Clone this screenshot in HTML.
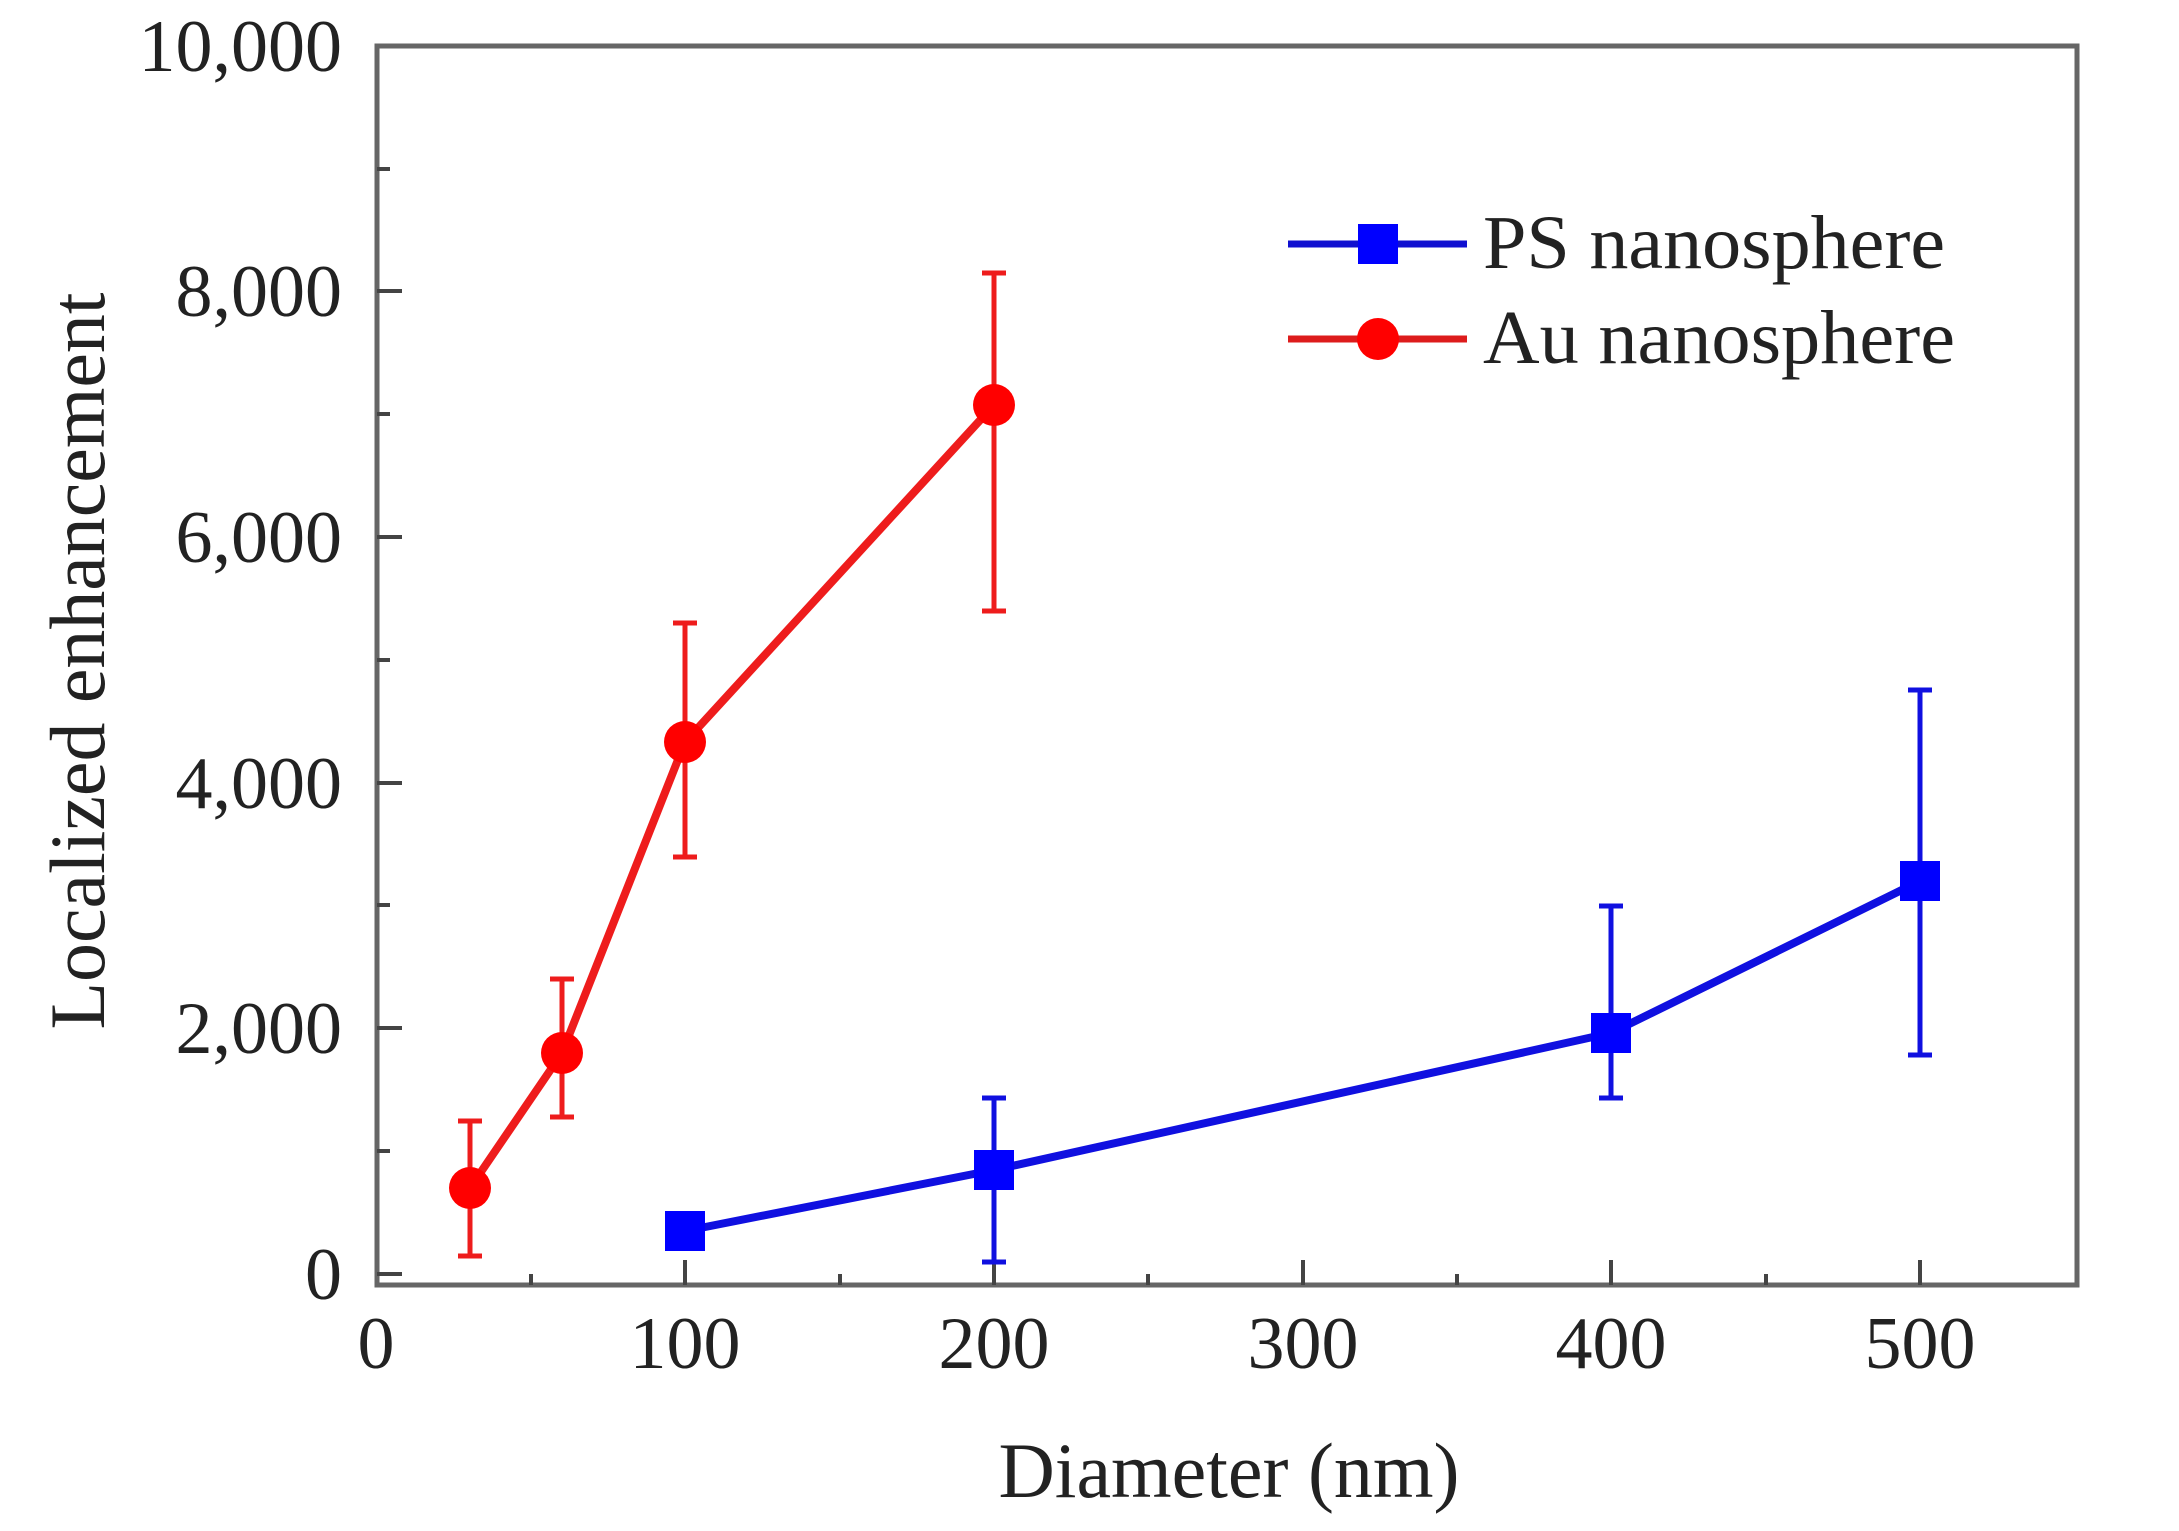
<!DOCTYPE html>
<html><head><meta charset="utf-8"><style>html,body{margin:0;padding:0;background:#fff}svg{display:block}</style></head>
<body>
<svg width="2179" height="1531" viewBox="0 0 2179 1531" xmlns="http://www.w3.org/2000/svg" font-family="Liberation Serif, serif">
<rect width="2179" height="1531" fill="#fff"/>
<rect x="377" y="46" width="1700" height="1239" fill="none" stroke="#666" stroke-width="5"/>
<g stroke="#444" stroke-width="4">
<line x1="377" y1="1274" x2="402" y2="1274"/><line x1="377" y1="1028" x2="402" y2="1028"/><line x1="377" y1="783" x2="402" y2="783"/><line x1="377" y1="537" x2="402" y2="537"/><line x1="377" y1="291" x2="402" y2="291"/>
<line x1="377" y1="1151" x2="390" y2="1151"/><line x1="377" y1="905" x2="390" y2="905"/><line x1="377" y1="660" x2="390" y2="660"/><line x1="377" y1="414" x2="390" y2="414"/><line x1="377" y1="169" x2="390" y2="169"/>
<line x1="685" y1="1285" x2="685" y2="1260"/><line x1="994" y1="1285" x2="994" y2="1260"/><line x1="1303" y1="1285" x2="1303" y2="1260"/><line x1="1611" y1="1285" x2="1611" y2="1260"/><line x1="1920" y1="1285" x2="1920" y2="1260"/>
<line x1="531" y1="1285" x2="531" y2="1274"/><line x1="840" y1="1285" x2="840" y2="1274"/><line x1="1148" y1="1285" x2="1148" y2="1274"/><line x1="1457" y1="1285" x2="1457" y2="1274"/><line x1="1766" y1="1285" x2="1766" y2="1274"/>
</g>
<g font-size="74" fill="#222" text-anchor="end">
<text x="342" y="1299">0</text><text x="342" y="1053">2,000</text><text x="342" y="808">4,000</text><text x="342" y="562">6,000</text><text x="342" y="316">8,000</text><text x="342" y="71">10,000</text>
</g>
<g font-size="74" fill="#222" text-anchor="middle">
<text x="376" y="1368">0</text><text x="685" y="1368">100</text><text x="994" y="1368">200</text><text x="1303" y="1368">300</text><text x="1611" y="1368">400</text><text x="1920" y="1368">500</text>
</g>
<text x="1229" y="1497" font-size="78" fill="#222" text-anchor="middle" textLength="461" lengthAdjust="spacingAndGlyphs">Diameter (nm)</text>
<text transform="translate(104,661) rotate(-90)" font-size="78" fill="#222" text-anchor="middle" textLength="737" lengthAdjust="spacingAndGlyphs">Localized enhancement</text>

<g stroke="#ee1c1c" stroke-width="5" fill="none">
<line x1="470" y1="1256" x2="470" y2="1121"/><line x1="458" y1="1256" x2="482" y2="1256"/><line x1="458" y1="1121" x2="482" y2="1121"/>
<line x1="562" y1="1117" x2="562" y2="979"/><line x1="550" y1="1117" x2="574" y2="1117"/><line x1="550" y1="979" x2="574" y2="979"/>
<line x1="685" y1="857" x2="685" y2="623"/><line x1="673" y1="857" x2="697" y2="857"/><line x1="673" y1="623" x2="697" y2="623"/>
<line x1="994" y1="611" x2="994" y2="273"/><line x1="982" y1="611" x2="1006" y2="611"/><line x1="982" y1="273" x2="1006" y2="273"/>
<polyline stroke-width="8" points="470,1188 562,1053 685,742 994,405"/>
</g>
<g fill="#ff0000">
<circle cx="470" cy="1188" r="21"/><circle cx="562" cy="1053" r="21"/><circle cx="685" cy="742" r="21"/><circle cx="994" cy="405" r="21"/>
</g>
<g stroke="#1010e0" stroke-width="5" fill="none">
<line x1="994" y1="1262" x2="994" y2="1098"/><line x1="982" y1="1262" x2="1006" y2="1262"/><line x1="982" y1="1098" x2="1006" y2="1098"/>
<line x1="1611" y1="1098" x2="1611" y2="906"/><line x1="1599" y1="1098" x2="1623" y2="1098"/><line x1="1599" y1="906" x2="1623" y2="906"/>
<line x1="1920" y1="1055" x2="1920" y2="690"/><line x1="1908" y1="1055" x2="1932" y2="1055"/><line x1="1908" y1="690" x2="1932" y2="690"/>
<polyline stroke-width="8" points="685,1231 994,1170 1611,1033 1920,881"/>
</g>
<g fill="#0000ff">
<rect x="665" y="1211" width="40" height="40"/><rect x="974" y="1150" width="40" height="40"/><rect x="1591" y="1013" width="40" height="40"/><rect x="1900" y="861" width="40" height="40"/>
</g>
<line x1="1288" y1="244" x2="1467" y2="244" stroke="#1010d0" stroke-width="7"/>
<rect x="1358" y="224" width="40" height="40" fill="#0000ff"/>
<line x1="1288" y1="339" x2="1467" y2="339" stroke="#dd1c1c" stroke-width="7"/>
<circle cx="1378" cy="339" r="21" fill="#ff0000"/>
<text x="1483" y="268" font-size="76" fill="#222" textLength="462" lengthAdjust="spacingAndGlyphs">PS nanosphere</text>
<text x="1483" y="363" font-size="76" fill="#222" textLength="472" lengthAdjust="spacingAndGlyphs">Au nanosphere</text>
</svg>
</body></html>
